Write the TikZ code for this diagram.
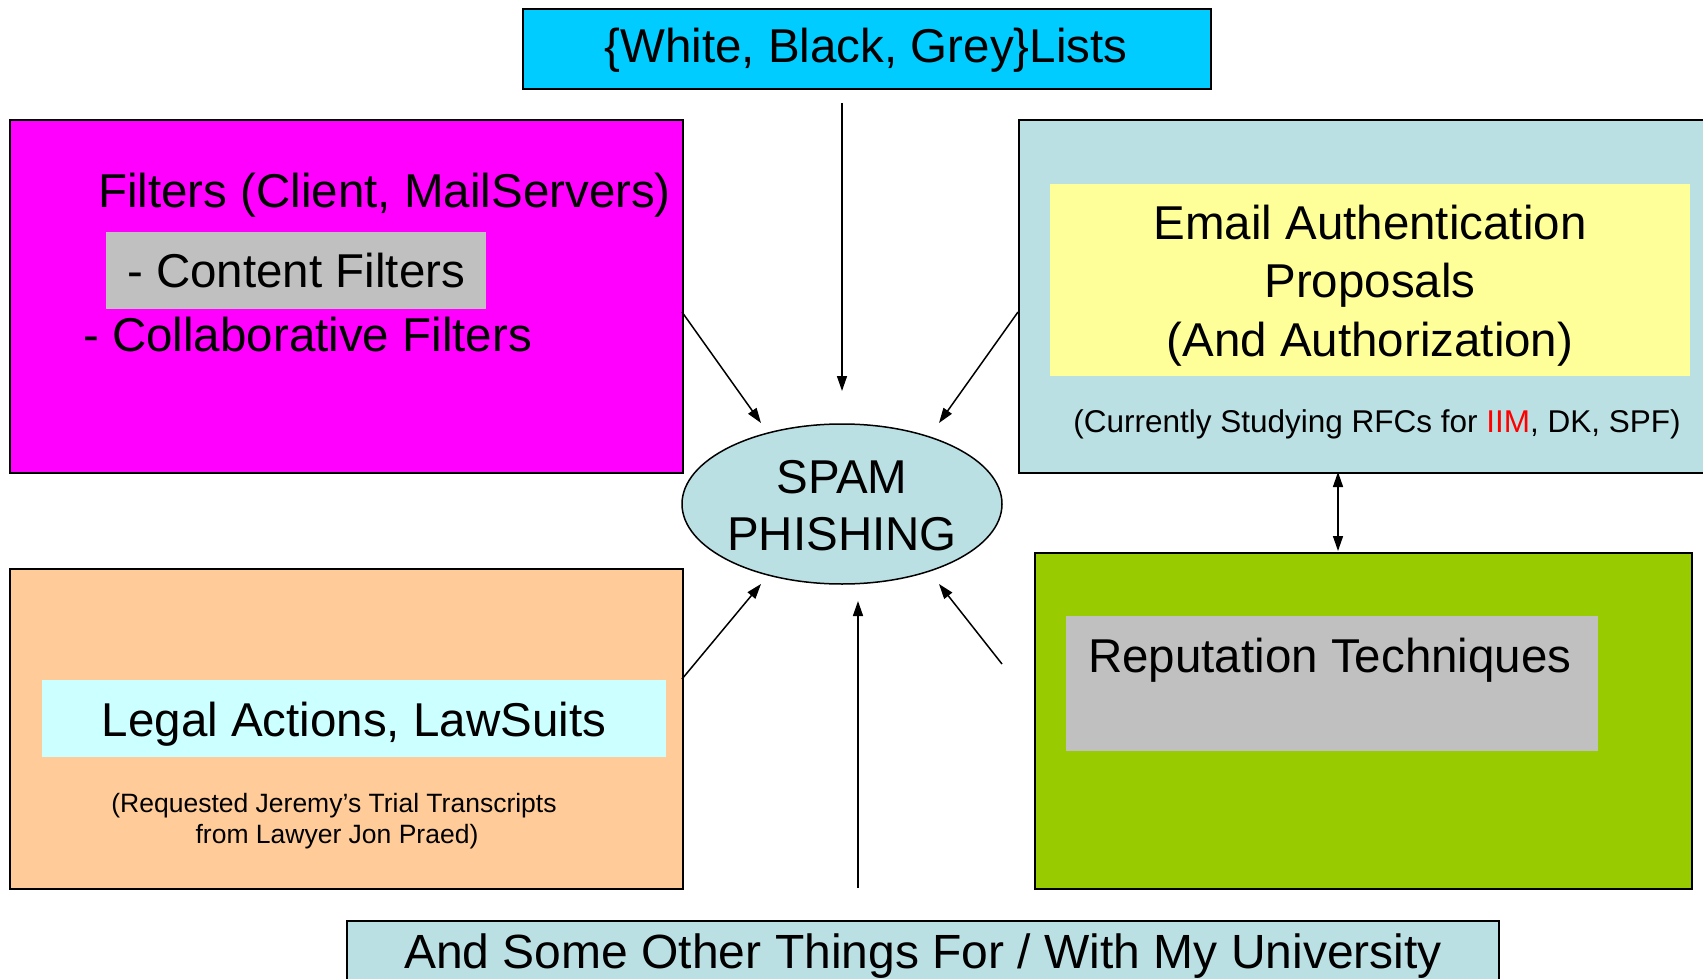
\documentclass[tikz,border=0pt]{standalone}
\usepackage{fontspec}
\setmainfont{Liberation Sans}
\usetikzlibrary{arrows.meta,shapes.geometric}
\definecolor{cyanbox}{HTML}{00CCFF}
\definecolor{magbox}{HTML}{FF00FF}
\definecolor{graybox}{HTML}{C0C0C0}
\definecolor{bluebox}{HTML}{BBE0E3}
\definecolor{yelbox}{HTML}{FFFF99}
\definecolor{peachbox}{HTML}{FFCC99}
\definecolor{lcyanbox}{HTML}{CCFFFF}
\definecolor{greenbox}{HTML}{99CC00}
\begin{document}
\begin{tikzpicture}[x=1pt,y=-1pt,
  frame/.style={draw=black, line width=2.2pt, inner sep=0pt, anchor=north west},
  panel/.style={draw=none, inner sep=0pt, anchor=north west},
  big/.style={inner sep=0pt, font=\fontsize{47.5}{57}\selectfont},
  mid/.style={inner sep=0pt, font=\fontsize{31.5}{38}\selectfont},
  small/.style={inner sep=0pt, font=\fontsize{26.5}{32}\selectfont},
  conn/.style={line width=1.5pt, -{Triangle[length=15pt,width=10pt]}},
  dconn/.style={line width=1.5pt, {Triangle[length=15pt,width=10pt]}-{Triangle[length=15pt,width=10pt]}}
]
\useasboundingbox (0,0) rectangle (1703,979);
\clip (0,0) rectangle (1703,979);
\fill[white] (0,0) rectangle (1703,979);

% boxes
\node[frame, fill=cyanbox, minimum width=688, minimum height=80] (lists) at (522,8) {};
\node[frame, fill=magbox, minimum width=673, minimum height=353] (filt) at (9,119) {};
\node[panel, fill=graybox, minimum width=380, minimum height=77] (cont) at (106,232) {};
\node[frame, fill=bluebox, minimum width=700, minimum height=353] (auth) at (1018,119) {};
\node[panel, fill=yelbox, minimum width=640, minimum height=192] (prop) at (1050,184) {};
\node[frame, fill=peachbox, minimum width=673, minimum height=320] (legal) at (9,568) {};
\node[panel, fill=lcyanbox, minimum width=624, minimum height=77] (law) at (42,680) {};
\node[frame, fill=greenbox, minimum width=657, minimum height=336] (rep) at (1034,552) {};
\node[panel, fill=graybox, minimum width=532, minimum height=135] (repin) at (1066,616) {};
\node[frame, fill=bluebox, minimum width=1152, minimum height=120] (univ) at (346,920) {};
\node[ellipse, draw=black, line width=1.5pt, fill=bluebox, minimum width=320, minimum height=160, inner sep=0pt] (spam) at (842,504) {};

% texts
\node[big, anchor=base] (tlists) at (866,63) {\{White, Black, Grey\}Lists};
\node[big, anchor=base west] (tfilt) at (98,207) {Filters (Client, MailServers)};
\node[big, anchor=base west] (tcont) at (127,287) {- Content Filters};
\node[big, anchor=base west] (tcoll) at (83,351) {- Collaborative Filters};
\node[big, anchor=base] (te1) at (1370,239) {Email Authentication};
\node[big, anchor=base] (te2) at (1370,297) {Proposals};
\node[big, anchor=base] (te3) at (1370,356) {(And Authorization)};
\node[mid, anchor=base] (trfc) at (1377,432) {(Currently Studying RFCs for \textcolor{red}{IIM}, DK, SPF)};
\node[big, anchor=base] (ts1) at (842,493) {SPAM};
\node[big, anchor=base] (ts2) at (842,550) {PHISHING};
\node[big, anchor=base] (tlaw) at (354,736) {Legal Actions, LawSuits};
\node[small, anchor=base] (tr1) at (334,812) {(Requested Jeremy’s Trial Transcripts};
\node[small, anchor=base] (tr2) at (337,843) {from Lawyer Jon Praed)};
\node[big, anchor=base west] (trep) at (1088,672) {Reputation Techniques};
\node[inner sep=0pt, font=\fontsize{48}{57}\selectfont, anchor=base west] (tuni) at (404,968) {And Some Other Things For / With My University};

% connector ends
\coordinate (a1s) at (842,103);
\coordinate (a1e) at (842,391);
\coordinate (a2s) at (682,312);
\coordinate (a2e) at (761,423);
\coordinate (a3s) at (1018,312);
\coordinate (a3e) at (939,423);
\coordinate (a4s) at (682,679);
\coordinate (a4e) at (761,584);
\coordinate (a5s) at (1002,664);
\coordinate (a5e) at (939,584);
\coordinate (a6s) at (858,888);
\coordinate (a6e) at (858,601);
\coordinate (d1) at (1338,472);
\coordinate (d2) at (1338,551);

\draw[conn] (a1s) -- (a1e);
\draw[conn] (a2s) -- (a2e);
\draw[conn] (a3s) -- (a3e);
\draw[conn] (a4s) -- (a4e);
\draw[conn] (a5s) -- (a5e);
\draw[conn] (a6s) -- (a6e);
\draw[dconn] (d1) -- (d2);
\end{tikzpicture}
\end{document}
